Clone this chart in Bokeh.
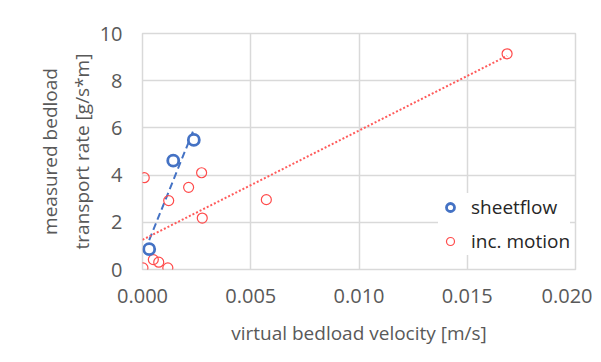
import numpy as np
from bokeh.plotting import figure
from bokeh.models import Range1d, FixedTicker, Legend, LegendItem, NumeralTickFormatter
from bokeh.embed import file_html
from bokeh.resources import INLINE

# data
sheet_x = [0.00031, 0.00142, 0.00237]
sheet_y = [0.86, 4.61, 5.49]
inc_x = [0.00002, 0.00008, 0.00050, 0.00075, 0.00117, 0.00121, 0.00213, 0.00273, 0.00276, 0.00572, 0.01684]
inc_y = [0.07, 3.89, 0.42, 0.31, 0.07, 2.92, 3.48, 4.10, 2.18, 2.96, 9.14]
x_ticks = [0.0, 0.005, 0.010, 0.015, 0.020]
y_ticks = [0, 2, 4, 6, 8, 10]

FONT = "Open Sans"
GRID = "#d9d9d9"
TXT = "#595959"

p = figure(width=592, height=354, output_backend="svg", toolbar_location=None,
           x_range=Range1d(0, 0.02), y_range=Range1d(0, 10),
           min_border_left=142, min_border_right=17, min_border_top=33, min_border_bottom=85)

p.outline_line_color = GRID
p.outline_line_width = 1.5
for ax in (p.xaxis, p.yaxis):
    ax.axis_line_color = None
    ax.major_tick_line_color = None
    ax.minor_tick_line_color = None
    ax.major_label_text_font = FONT
    ax.major_label_text_font_size = "20px"
    ax.major_label_text_color = TXT
    ax.axis_label_text_font = FONT
    ax.axis_label_text_font_size = "19px"
    ax.axis_label_text_font_style = "normal"
    ax.axis_label_text_color = TXT
p.xaxis.ticker = FixedTicker(ticks=x_ticks)
p.yaxis.ticker = FixedTicker(ticks=y_ticks)
p.xaxis.formatter = NumeralTickFormatter(format="0.000")
p.xaxis.major_label_standoff = 13
p.yaxis.major_label_standoff = 14
p.xaxis.axis_label = "virtual bedload velocity [m/s]"
p.yaxis.axis_label = "measured bedload\ntransport rate [g/s*m]"
p.xaxis.axis_label_standoff = 14
p.yaxis.axis_label_standoff = 2
p.xgrid.grid_line_color = GRID
p.ygrid.grid_line_color = GRID
p.xgrid.grid_line_width = 1.5
p.ygrid.grid_line_width = 1.5

# trendlines (least squares over each series, spanning its x range)
sx = np.array(sheet_x); sy = np.array(sheet_y)
ix = np.array(inc_x); iy = np.array(inc_y)
bs, bi = np.polyfit(sx, sy, 1)
rs, ri = np.polyfit(ix, iy, 1)
bx = [sx.min(), sx.max()]
rx = [0.0, ix.max()]
p.line(bx, [bs * v + bi for v in bx], line_color="#4472c4", line_width=2, line_dash="7 4")
p.line(rx, [rs * v + ri for v in rx], line_color="#ff5b5b", line_width=2, line_dash="2 2")

r_inc = p.scatter(inc_x, inc_y, marker="circle", size=10, fill_color=None,
                  line_color="#ff4b4b", line_width=1.2)
r_sheet = p.scatter(sheet_x, sheet_y, marker="circle", size=11, fill_color="white",
                    line_color="#4472c4", line_width=2.8)

leg = Legend(items=[LegendItem(label="sheetflow", renderers=[r_sheet]),
                    LegendItem(label="inc. motion", renderers=[r_inc])],
             location=(296, 14), border_line_color=None, background_fill_color="white",
             background_fill_alpha=1.0, padding=8, spacing=6, label_height=28,
             glyph_width=24, glyph_height=20, label_standoff=9, margin=0,
             label_text_font=FONT, label_text_font_size="19px", label_text_color="#262626")
p.add_layout(leg, "center")

open("out.html", "w").write(file_html(p, INLINE))
